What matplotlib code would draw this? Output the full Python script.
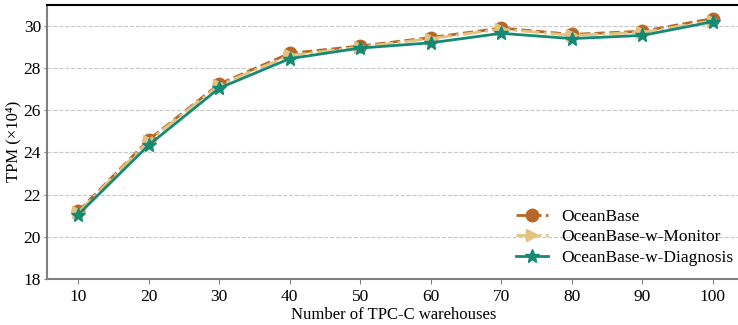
import matplotlib
matplotlib.use("Agg")
import matplotlib.pyplot as plt

plt.rcParams['font.family'] = ['Liberation Serif', 'DejaVu Serif']

warehouses = [10, 20, 30, 40, 50, 60, 70, 80, 90, 100]
oceanbase = [21.2, 24.6, 27.25, 28.7, 29.05, 29.45, 29.9, 29.6, 29.75, 30.35]
monitor = [21.15, 24.55, 27.2, 28.6, 29.0, 29.4, 29.85, 29.55, 29.7, 30.25]
diagnosis = [21.05, 24.35, 27.05, 28.45, 28.95, 29.2, 29.65, 29.4, 29.55, 30.2]

fig = plt.figure(figsize=(7.38, 3.25), dpi=100)
ax = fig.add_axes([0.064, 0.142, 0.94, 0.843])

ax.plot(warehouses, oceanbase, color='#B5682A', linestyle='--', linewidth=2,
        marker='o', markersize=9, label='OceanBase', zorder=3)
ax.plot(warehouses, monitor, color='#E3C27E', linestyle='-.', linewidth=2,
        marker='>', markersize=9, label='OceanBase-w-Monitor', zorder=4)
ax.plot(warehouses, diagnosis, color='#148A74', linestyle='-', linewidth=2,
        marker='*', markersize=10, label='OceanBase-w-Diagnosis', zorder=5)

ax.set_xlim(5.6, 104)
ax.set_ylim(18, 31)
ax.set_xticks(warehouses)
ax.set_yticks([18, 20, 22, 24, 26, 28, 30])
ax.grid(axis='y', linestyle='--', color='#c8c8c8', linewidth=0.8)
ax.set_axisbelow(True)

for s in ['left', 'bottom']:
    ax.spines[s].set_color('#808080')
    ax.spines[s].set_linewidth(1.5)
ax.spines['top'].set_linewidth(1.5)
ax.spines['right'].set_visible(False)
ax.tick_params(axis='both', labelsize=12.5, color='#808080')
ax.tick_params(axis='y', length=2.5, pad=2)

ax.set_xlabel('Number of TPC-C warehouses', fontsize=12, labelpad=2)
ax.set_ylabel('TPM (×10⁴)', fontsize=12)
ax.yaxis.set_label_coords(-0.037, 0.5)

ax.legend(loc='lower right', bbox_to_anchor=(1.012, -0.01), frameon=False,
          fontsize=12.5, handlelength=1.8, labelspacing=0.25)

fig.savefig('out.png', dpi=100)
